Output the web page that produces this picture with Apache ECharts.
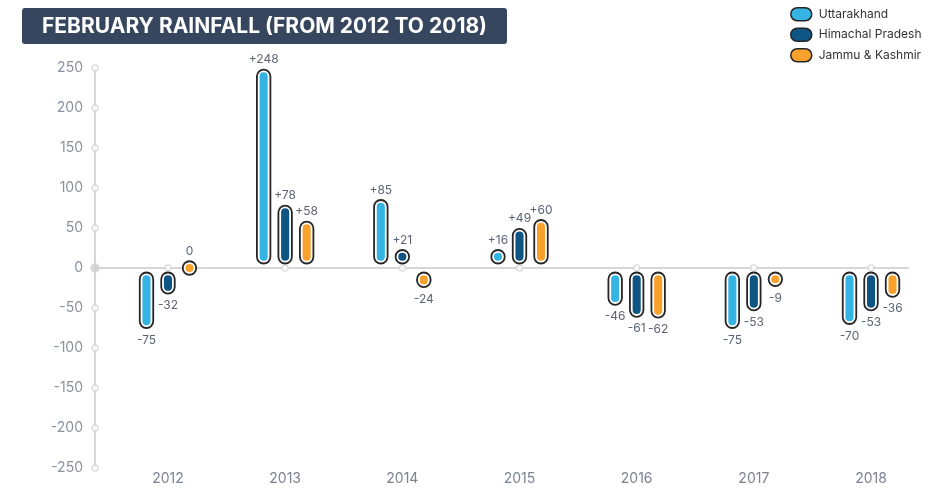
<!DOCTYPE html>
<html><head><meta charset="utf-8">
<script src="https://cdn.jsdelivr.net/npm/echarts@6/dist/echarts.min.js"></script>
<style>html,body{margin:0;padding:0;background:#fff}#c{width:952px;height:500px}</style>
</head><body><div id="c"></div>
<script>
const categories = ['2012','2013','2014','2015','2016','2017','2018'];
const uttarakhand = [-75, 248, 85, 16, -46, -75, -70];
const himachal = [-32, 78, 21, 49, -61, -53, -53];
const jammuKashmir = [0, 58, -24, 60, -62, -9, -36];
const yTicks = [-250,-200,-150,-100,-50,0,50,100,150,200,250];
const seriesNames = ['Uttarakhand','Himachal Pradesh','Jammu & Kashmir'];
const colors = ['#35b4e4','#0e5584','#f9a12d'];
const FONT = 'Inter';

function makeRender(off, color){
  return function(params, api){
    const ci = api.value(0), v = api.value(1);
    const c0 = api.coord([ci, 0]);
    const cv = api.coord([ci, v]);
    const x = c0[0] + off;
    const w = 13.5, gap = 4.5;
    let y1, y2;
    if (v > 0) { y2 = c0[1] - gap; y1 = Math.min(cv[1], y2 - w); }
    else if (v < 0) { y1 = c0[1] + gap; y2 = Math.max(cv[1], y1 + w); }
    else { y1 = c0[1] - w/2; y2 = c0[1] + w/2; }
    const h = y2 - y1;
    const txt = v > 0 ? '+' + v : String(v);
    const ty = v >= 0 ? y1 - 10 : y2 + 12;
    return {
      type: 'group',
      children: [
        {type:'rect', shape:{x:x-w/2, y:y1, width:w, height:h, r:w/2},
         style:{fill:'#ffffff', stroke:'#262626', lineWidth:1.8}},
        {type:'rect', shape:{x:x-w/2+2.7, y:y1+2.7, width:w-5.4, height:h-5.4, r:(w-5.4)/2},
         style:{fill:color}},
        {type:'text', x:x, y:ty,
         style:{text:txt, fill:'#5b6475', font:'12px ' + FONT, align:'center', verticalAlign:'middle'}}
      ]
    };
  };
}

const offsets = [-21.5, 0, 21.5];
const dataSets = [uttarakhand, himachal, jammuKashmir];
const barSeries = dataSets.map((arr, k) => ({
  name: seriesNames[k],
  type: 'custom',
  xAxisIndex: 1, yAxisIndex: 1,
  renderItem: makeRender(offsets[k], colors[k]),
  itemStyle: {color: colors[k], borderColor:'#262626', borderWidth:1.5},
  encode: {x: 0, y: 1},
  data: arr.map((v, i) => [i, v]),
  z: 5
}));

const chart = echarts.init(document.getElementById('c'));
chart.setOption({
  animation: false,
  title: {
    text: 'FEBRUARY RAINFALL (FROM 2012 TO 2018)',
    left: 22, top: 8,
    backgroundColor: '#35465e',
    borderRadius: 3,
    padding: [7, 20, 6, 20],
    textStyle: {color:'#ffffff', fontFamily: FONT, fontWeight:'bold', fontSize:21, lineHeight:23}
  },
  legend: {
    orient: 'vertical', left: 790, top: 7, padding: 0,
    itemWidth: 21, itemHeight: 13, itemGap: 6,
    icon: 'path://M6.5,0 H14.5 A6.5,6.5 0 0 1 14.5,13 H6.5 A6.5,6.5 0 0 1 6.5,0 Z',
    textStyle: {color:'#333333', fontFamily: FONT, fontSize: 12, padding:[0,0,0,2]},
    itemStyle: {borderColor:'#262626', borderWidth:1.5},
    data: seriesNames
  },
  grid: [
    {left: 95, right: 44, top: 68, bottom: 32},
    {left: 109.4, right: 22.4, top: 68, bottom: 32}
  ],
  xAxis: [
    {type:'value', gridIndex:0, min:0, max:1,
     axisLine:{show:true, onZero:true, lineStyle:{color:'#d6d6d6', width:2}},
     axisTick:{show:false}, axisLabel:{show:false}, splitLine:{show:false}},
    {type:'category', gridIndex:1, data: categories,
     axisLine:{show:false, onZero:false}, axisTick:{show:false},
     axisLabel:{color:'#7b8392', fontFamily: FONT, fontSize:14, margin:4},
     splitLine:{show:false}}
  ],
  yAxis: [
    {type:'value', gridIndex:0, min:-250, max:250, interval:50,
     axisLine:{show:true, lineStyle:{color:'#d6d6d6', width:2}},
     axisTick:{show:false}, splitLine:{show:false},
     axisLabel:{color:'#8a92a0', fontFamily: FONT, fontSize:14, margin:12}},
    {type:'value', gridIndex:1, min:-250, max:250, interval:50, show:false}
  ],
  series: [
    {type:'scatter', xAxisIndex:0, yAxisIndex:0, clip:false, silent:true, z:3,
     symbolSize: (d) => d[1] === 0 ? 8 : 6,
     itemStyle:{color:(p) => p.data[1] === 0 ? '#cfcfcf' : '#ffffff', borderColor:'#d6d6d6', borderWidth:1.5},
     data: yTicks.map(t => [0, t])},
    {type:'scatter', xAxisIndex:1, yAxisIndex:1, clip:false, silent:true, z:3,
     symbolSize: 6,
     itemStyle:{color:'#ffffff', borderColor:'#d6d6d6', borderWidth:1.5},
     data: categories.map((c, i) => [i, 0])},
    ...barSeries
  ]
});
</script></body></html>
